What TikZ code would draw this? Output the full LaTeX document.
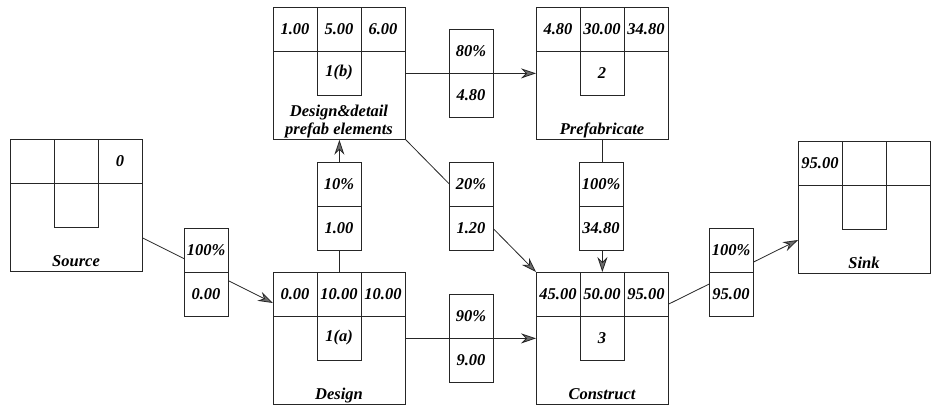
\documentclass[tikz,border=0pt]{standalone}
\usepackage{fontspec}
\setmainfont{Liberation Serif}
\usetikzlibrary{arrows.meta,calc}
\tikzset{
  lw/.style={line width=0.8pt, draw=black!85},
  abox/.style={lw, minimum width=132pt, minimum height=132pt, inner sep=0pt, anchor=north west},
  flowbox/.style={lw, fill=white, minimum width=44pt, minimum height=88pt, inner sep=0pt, anchor=north west},
  txt/.style={inner sep=0pt, font=\fontsize{16.5}{18}\selectfont\bfseries\itshape},
  lab/.style={txt, align=center, anchor=base},
  conn/.style={lw, -{Stealth[length=15pt,width=10pt,inset=5pt,fill=gray!85!black]}},
}
\newcommand\actbox[8]{%
  \begin{scope}[shift={(#2,#3)}]
    \node[abox] (#1) at (0,0) {};
    \draw[lw] (0,44) -- (132,44);
    \draw[lw] (44,0) -- (44,88) -- (88,88) -- (88,0);
    \node[txt] (#1-tl) at (22,22) {#4};
    \node[txt] (#1-tm) at (66,22) {#5};
    \node[txt] (#1-tr) at (110,22) {#6};
    \node[txt] (#1-m) at (66,66) {#7};
    \node[lab] (#1-lab) at (66,127) {#8};
  \end{scope}}
\newcommand\flowlabel[5]{%
  \begin{scope}[shift={(#2,#3)}]
    \node[flowbox] (#1) at (0,0) {};
    \draw[lw] (0,44) -- (44,44);
    \node[txt] (#1-t) at (22,22) {#4};
    \node[txt] (#1-b) at (22,66) {#5};
  \end{scope}}
\begin{document}
\begin{tikzpicture}[x=1pt,y=-1pt]
\useasboundingbox[fill=white] (0,0) rectangle (933,405);
% activity boxes
\actbox{src}{10}{139}{}{}{0}{}{Source}
\actbox{dsgb}{273}{7}{1.00}{5.00}{6.00}{1(b)}{prefab elements}
\actbox{pref}{536}{7}{4.80}{30.00}{34.80}{2}{Prefabricate}
\actbox{dsga}{273}{272}{0.00}{10.00}{10.00}{1(a)}{Design}
\actbox{cons}{536}{272}{45.00}{50.00}{95.00}{3}{Construct}
\actbox{sink}{798}{141}{95.00}{}{}{}{Sink}
\node[lab] (dsgb-lab2) at ($(dsgb-lab.base)+(0,-18)$) {Design\&detail};
% connectors
\coordinate (c1a) at ($(src.north east)+(0,99)$);
\coordinate (c1b) at ($(dsga.north west)+(0,31)$);
\draw[conn] (c1a) -- (c1b);
\draw[conn] (dsga.north) -- (dsgb.south);
\draw[conn] (dsgb.east) -- (pref.west);
\draw[conn] (dsgb.south east) -- (cons.north west);
\draw[conn] (pref.south) -- (cons.north);
\draw[conn] (dsga.east) -- (cons.west);
\coordinate (c7a) at ($(cons.north east)+(0,32)$);
\coordinate (c7b) at ($(sink.north west)+(0,99)$);
\draw[conn] (c7a) -- (c7b);
% flow labels
\flowlabel{f1}{184}{228}{100\%}{0.00}
\flowlabel{f2}{317}{162}{10\%}{1.00}
\flowlabel{f3}{449}{29}{80\%}{4.80}
\flowlabel{f4}{449}{162}{20\%}{1.20}
\flowlabel{f5}{579}{162}{100\%}{34.80}
\flowlabel{f6}{449}{294}{90\%}{9.00}
\flowlabel{f7}{709}{228}{100\%}{95.00}
\end{tikzpicture}
\end{document}
